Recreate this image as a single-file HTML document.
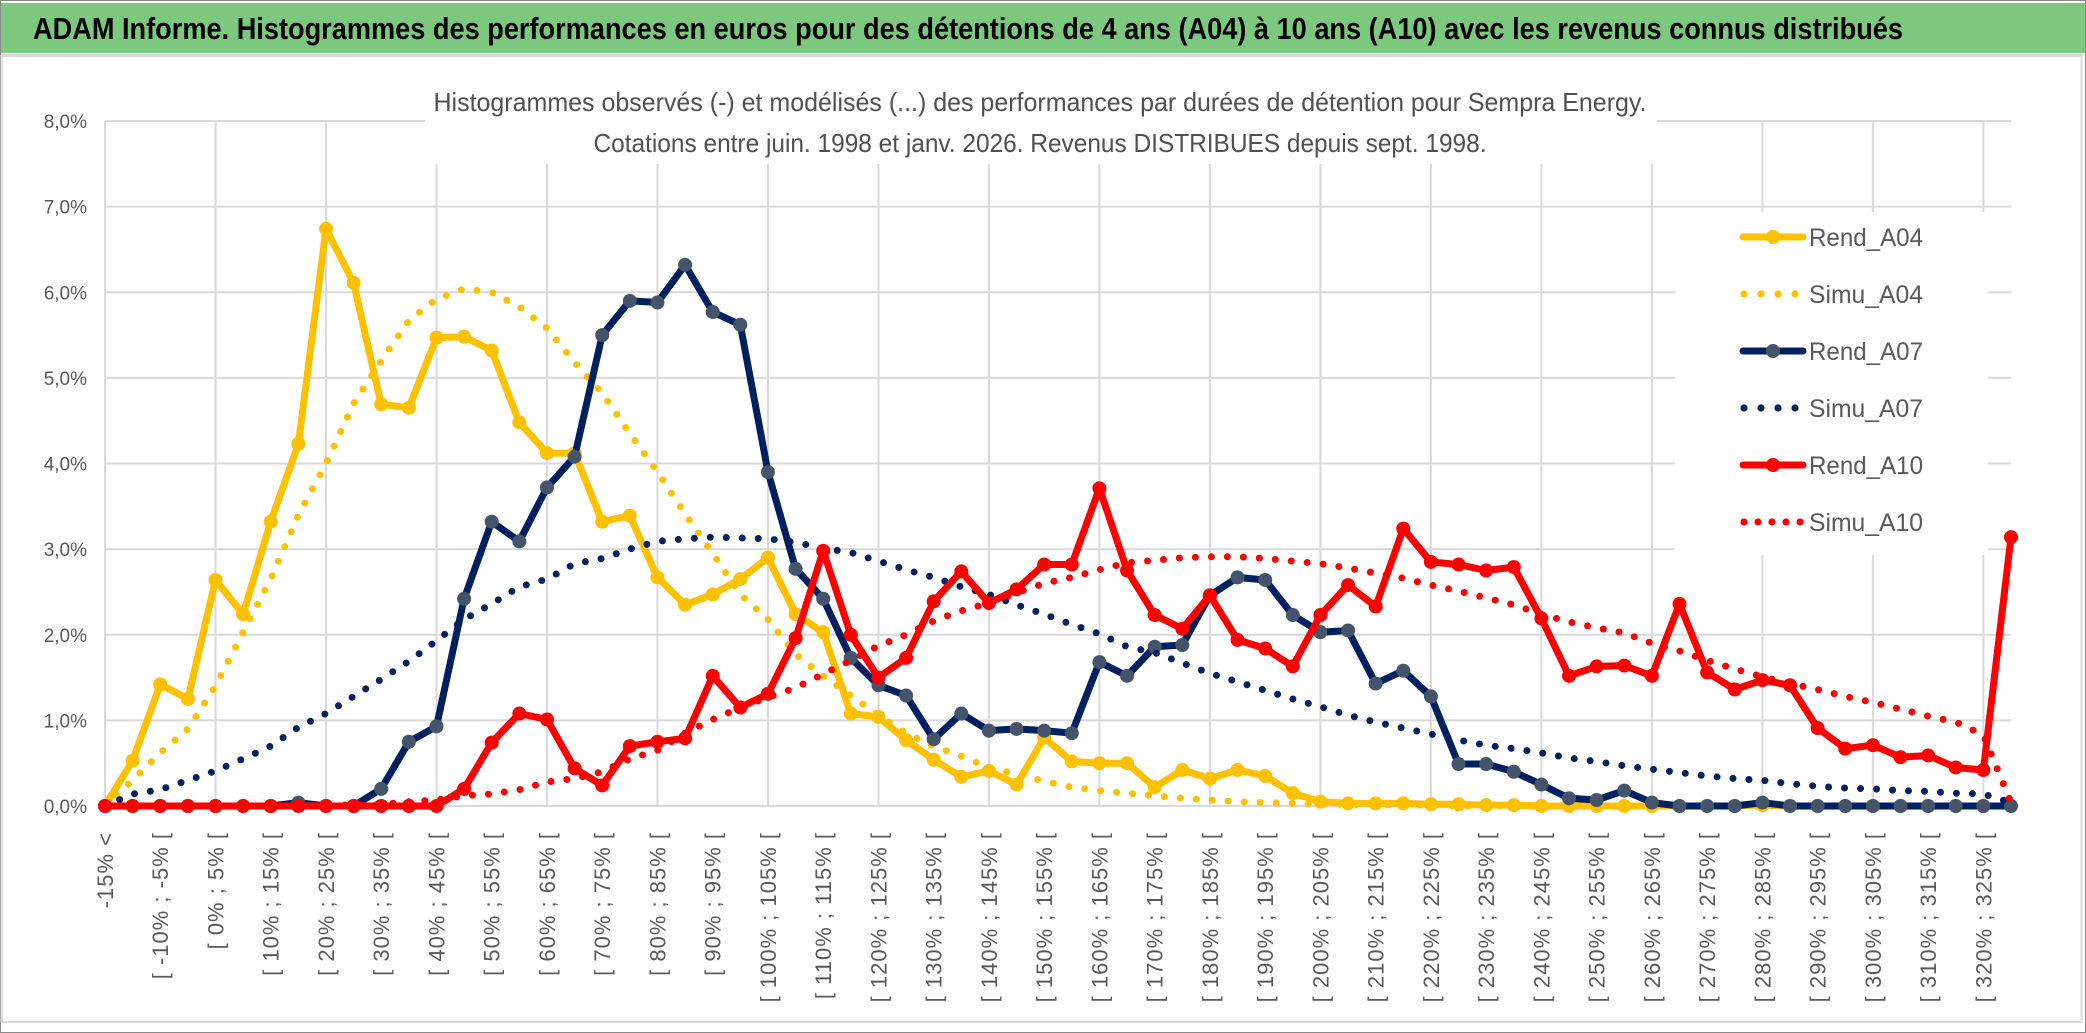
<!DOCTYPE html>
<html><head><meta charset="utf-8"><style>
html,body{margin:0;padding:0;background:#fff;}
svg{display:block;font-family:"Liberation Sans",sans-serif;}
</style></head><body>
<svg id="chart" width="2086" height="1033" viewBox="0 0 2086 1033" xmlns="http://www.w3.org/2000/svg">
<rect x="0.5" y="0.5" width="2085" height="1032" fill="#fff" stroke="#8a8a8a"/>
<rect x="1" y="3" width="2084" height="50" fill="#7DC87F"/>
<line x1="1" y1="55" x2="2083" y2="55" stroke="#d0d0d0" stroke-width="2"/>
<rect x="1.5" y="56" width="2080" height="966" fill="#fff" stroke="#d9d9d9" stroke-width="2"/>
<text x="33" y="39" font-size="31" font-weight="bold" fill="#000" textLength="1870" lengthAdjust="spacingAndGlyphs">ADAM Informe. Histogrammes des performances en euros pour des détentions de 4 ans (A04) à 10 ans (A10) avec les revenus connus distribués</text>
<g id="grid"></g>
<rect x="425" y="78" width="1232" height="86" fill="#fff"/>
<text x="1040" y="111" font-size="26" fill="#505050" text-anchor="middle" textLength="1213" lengthAdjust="spacingAndGlyphs">Histogrammes observés (-) et modélisés (...) des performances par durées de détention pour Sempra Energy.</text>
<text x="1040" y="152" font-size="26" fill="#505050" text-anchor="middle" textLength="893" lengthAdjust="spacingAndGlyphs">Cotations entre juin. 1998 et janv. 2026. Revenus DISTRIBUES depuis sept. 1998.</text>
<g id="yaxis"></g>
<g id="xaxis"></g>
<rect x="1675" y="212" width="313" height="343" fill="#fff"/>
<g id="series"></g>
<g id="legend"></g>
</svg>
<script>
const categories = [];
for (let i = 0; i < 70; i++) {
  if (i === 0) categories.push("-15% <");
  else categories.push("[ " + (5*(i-4)) + "% ; " + (5*(i-3)) + "% [");
}
const yTicks = [0,1,2,3,4,5,6,7,8];
const yTickLabels = ["0,0%","1,0%","2,0%","3,0%","4,0%","5,0%","6,0%","7,0%","8,0%"];
const seriesNames = ["Rend_A04","Simu_A04","Rend_A07","Simu_A07","Rend_A10","Simu_A10"];
const rendA04 = [0,0.53,1.42,1.25,2.64,2.24,3.32,4.23,6.74,6.11,
 4.69,4.65,5.47,5.48,5.32,4.48,4.12,4.12,3.32,3.39,
 2.67,2.35,2.47,2.65,2.9,2.24,2.03,1.08,1.04,0.77,
 0.54,0.34,0.41,0.25,0.8,0.52,0.5,0.5,0.22,0.42,
 0.32,0.42,0.35,0.15,0.05,0.03,0.03,0.03,0.02,0.02,
 0.01,0.01,0,0,0,0,0,0,0,0,
 0.01,0,0,0,0,0,0,0,0,0];
const simuA04 = [0,0.3,0.62,0.9,1.4,2.03,2.65,3.4,4.0,4.7,
 5.2,5.67,5.92,6.04,6.0,5.83,5.58,5.18,4.82,4.35,
 3.9,3.41,2.95,2.47,2.18,1.77,1.52,1.29,1.06,0.85,
 0.7,0.58,0.45,0.37,0.29,0.22,0.18,0.15,0.12,0.09,
 0.07,0.05,0.04,0.03,0.02,0.02,0.01,0.01,0.01,0,
 0,0,0,0,0,0,0,0,0,0,
 0,0,0,0,0,0,0,0,0,0];
const rendA07 = [0,0,0,0,0,0,0,0.04,0,0,
 0.2,0.75,0.93,2.42,3.32,3.09,3.72,4.08,5.5,5.9,
 5.88,6.32,5.77,5.62,3.9,2.77,2.42,1.73,1.41,1.29,
 0.78,1.08,0.88,0.9,0.88,0.85,1.68,1.52,1.86,1.88,
 2.46,2.67,2.64,2.23,2.03,2.05,1.43,1.58,1.28,0.49,
 0.49,0.4,0.25,0.09,0.07,0.18,0.04,0,0,0,
 0.04,0,0,0,0,0,0,0,0,0];
const simuA07 = [0,0.14,0.19,0.3,0.41,0.55,0.7,0.92,1.08,1.28,
 1.48,1.69,1.93,2.18,2.36,2.56,2.65,2.83,2.89,3.0,
 3.09,3.12,3.14,3.13,3.12,3.08,3.01,2.96,2.86,2.76,
 2.67,2.56,2.47,2.35,2.24,2.12,2.01,1.86,1.79,1.67,
 1.55,1.45,1.35,1.25,1.16,1.06,0.98,0.91,0.84,0.77,
 0.71,0.67,0.62,0.56,0.52,0.47,0.43,0.39,0.35,0.32,
 0.3,0.26,0.23,0.21,0.2,0.18,0.17,0.15,0.14,0.04];
const rendA10 = [0,0,0,0,0,0,0,0,0,0,
 0,0,0,0.2,0.74,1.08,1.01,0.44,0.24,0.7,
 0.75,0.79,1.52,1.15,1.31,1.96,2.98,2.0,1.5,1.73,
 2.39,2.74,2.37,2.53,2.82,2.82,3.71,2.75,2.23,2.07,
 2.46,1.94,1.84,1.63,2.23,2.58,2.33,3.24,2.85,2.82,
 2.75,2.79,2.19,1.52,1.63,1.64,1.52,2.36,1.56,1.36,
 1.47,1.41,0.91,0.67,0.71,0.57,0.59,0.45,0.42,3.14];
const simuA10 = [0,0,0,0,0,0,0,0,0.01,0.01,
 0.02,0.05,0.07,0.12,0.14,0.19,0.28,0.32,0.4,0.55,
 0.65,0.85,1.01,1.15,1.27,1.38,1.54,1.7,1.87,2.0,
 2.16,2.28,2.37,2.49,2.6,2.67,2.76,2.84,2.87,2.9,
 2.91,2.91,2.89,2.86,2.83,2.78,2.72,2.66,2.58,2.51,
 2.43,2.35,2.24,2.15,2.08,2.02,1.9,1.81,1.7,1.6,
 1.51,1.43,1.36,1.28,1.21,1.13,1.05,0.98,0.83,0.04];

const NS = "http://www.w3.org/2000/svg";
const X0 = 105, X1 = 2011, Y0 = 806, YTOP = 121, YMAX = 8;
function xPos(i){ return X0 + i * (X1 - X0) / (categories.length - 1); }
function yPos(v){ return Y0 - v * (Y0 - YTOP) / YMAX; }
function mk(tag, attrs, parent){
  const e = document.createElementNS(NS, tag);
  for (const k in attrs) e.setAttribute(k, attrs[k]);
  parent.appendChild(e); return e;
}
const grid = document.getElementById("grid");
yTicks.forEach(t => {
  const l = mk("line", {x1:X0, x2:X1, y1:yPos(t), y2:yPos(t), stroke:"#d9d9d9", "stroke-width":2}, grid);
  
  
});
for (let i = 0; i < categories.length; i += 4) {
  const l = mk("line", {x1:xPos(i), x2:xPos(i), y1:YTOP, y2:Y0, stroke:"#d9d9d9", "stroke-width":2}, grid);
  
  
}
const yaxis = document.getElementById("yaxis");
yTicks.forEach((t, k) => {
  const tx = mk("text", {x:87, y:yPos(t)+7, "font-size":19, fill:"#595959", "text-anchor":"end"}, yaxis);
  tx.textContent = yTickLabels[k];
  
  
});
const xaxis = document.getElementById("xaxis");
categories.forEach((c, i) => {
  if (i % 2 !== 0) return;
  const x = xPos(i) + 8, y = 832;
  const tx = mk("text", {x:x, y:y, "font-size":22, fill:"#595959", "text-anchor":"end", "letter-spacing":"1", transform:"rotate(-90 "+x+" "+y+")"}, xaxis);
  tx.textContent = c;
  
  
});
const styles = [
  {data:rendA04, color:"#FFC000", marker:"#FFC000", dotted:false},
  {data:simuA04, color:"#FFC000", dotted:true},
  {data:rendA07, color:"#002060", marker:"#44546A", dotted:false},
  {data:simuA07, color:"#002060", dotted:true},
  {data:rendA10, color:"#FF0000", marker:"#FF0000", dotted:false},
  {data:simuA10, color:"#FF0000", dotted:true}
];
const sg = document.getElementById("series");
styles.forEach((s, k) => {
  const g = mk("g", {}, sg);
  
  
  const pts = s.data.map((v, i) => xPos(i).toFixed(1) + "," + yPos(v).toFixed(1)).join(" ");
  const pl = mk("polyline", {points:pts, fill:"none", stroke:s.color, "stroke-width": 7, "stroke-linejoin":"round", "stroke-linecap":"round"}, g);
  if (s.dotted) pl.setAttribute("stroke-dasharray", "0 16");
  
  
  if (!s.dotted) {
    s.data.forEach((v, i) => {
      const c = mk("circle", {cx:xPos(i), cy:yPos(v), r:7, fill:s.marker}, g);
      
      
    });
  }
});
const lg = document.getElementById("legend");
const legendY = [237,294,351,408,465,522];
styles.forEach((s, k) => {
  const y = legendY[k];
  const it = mk("g", {}, lg);
  
  
  if (s.dotted) {
    for (let d = 0; d < (k === 5 ? 5 : 4); d++) mk("circle", {cx:1744 + d*(k===5?14:17), cy:y, r:3.6, fill:s.color}, it);
  } else {
    mk("line", {x1:1743, x2:1803, y1:y, y2:y, stroke:s.color, "stroke-width":7, "stroke-linecap":"round"}, it);
    mk("circle", {cx:1773, cy:y, r:7, fill:s.marker}, it);
  }
  const tx = mk("text", {x:1809, y:y+9, "font-size":25, fill:"#595959", textLength:114, lengthAdjust:"spacingAndGlyphs"}, it);
  tx.textContent = seriesNames[k];
  
  
});
</script>
</body></html>
